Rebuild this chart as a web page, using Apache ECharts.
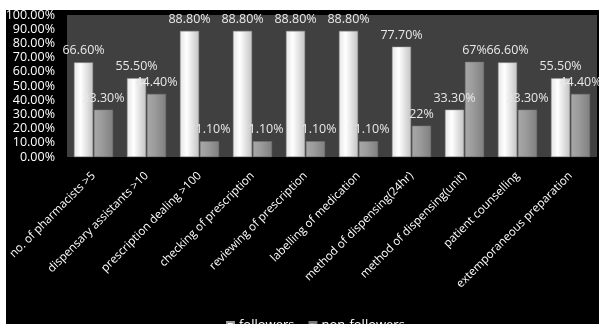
<!DOCTYPE html>
<html>
<head>
<meta charset="utf-8">
<script src="https://cdn.jsdelivr.net/npm/echarts@6/dist/echarts.min.js"></script>
<style>
html,body{margin:0;padding:0;background:#fff;}
#c{width:599px;height:324px;}
</style>
</head>
<body>
<div id="c"></div>
<script>
var categories = ["no. of pharmacists >5","dispensary assistants >10","prescription dealing >100","checking of prescription","reviewing of prescription","labelling of medication","method of dispensing(24hr)","method of dispensing(unit)","patient counselling","extemporaneous preparation"];
var followers = [66.6, 55.5, 88.8, 88.8, 88.8, 88.8, 77.7, 33.3, 66.6, 55.5];
var nonFollowers = [33.3, 44.4, 11.1, 11.1, 11.1, 11.1, 22, 67, 33.3, 44.4];
var followerLabels = ["66.60%","55.50%","88.80%","88.80%","88.80%","88.80%","77.70%","33.30%","66.60%","55.50%"];
var nonFollowerLabels = ["33.30%","44.40%","11.10%","11.10%","11.10%","11.10%","22%","67%","33.30%","44.40%"];

var chart = echarts.init(document.getElementById('c'));
var font = "'Open Sans', sans-serif";
chart.setOption({
  backgroundColor: '#ffffff',
  animation: false,
  graphic: [{type:'rect', left:6, top:10, shape:{width:593, height:314}, style:{fill:'#000'}, z:-10}],
  grid: {left:67, right:2, top:15, bottom:167, show:true, backgroundColor:'#404040', borderWidth:0},
  legend: {
    data:['followers','non-followers'], bottom:-13, left:221, itemWidth:7, itemHeight:7, itemGap:14,
    icon:'rect',
    textStyle:{color:'#fff', fontFamily:font, fontSize:13}
  },
  xAxis: {
    type:'category', data:categories,
    axisLine:{show:false}, axisTick:{show:false},
    axisLabel:{rotate:45, color:'#fff', fontFamily:font, fontSize:11.5, margin:17, interval:0}
  },
  yAxis: {
    type:'value', min:0, max:100, interval:10,
    splitLine:{show:false}, axisLine:{show:false}, axisTick:{show:false},
    axisLabel:{color:'#fff', fontFamily:font, fontSize:12.5, margin:12, formatter:function(v){return v.toFixed(2)+'%';}}
  },
  series: [
    {name:'followers', type:'bar', data:followers, barWidth:19, barGap:'5%',
     itemStyle:{color:new echarts.graphic.LinearGradient(0,0,1,0,[{offset:0,color:'#e6e6e6'},{offset:0.35,color:'#ffffff'},{offset:1,color:'#c4c4c4'}]), borderColor:'#9a9a9a', borderWidth:0.5},
     label:{show:true, position:'top', distance:5, color:'#e8e8e8', fontFamily:font, fontSize:12.5,
       formatter:function(p){return followerLabels[p.dataIndex];}}},
    {name:'non-followers', type:'bar', data:nonFollowers, barWidth:19,
     itemStyle:{color:new echarts.graphic.LinearGradient(0,0,1,0,[{offset:0,color:'#a8a8a8'},{offset:0.4,color:'#9c9c9c'},{offset:1,color:'#808080'}]), borderColor:'#777', borderWidth:0.5},
     label:{show:true, position:'top', distance:5, color:'#e8e8e8', fontFamily:font, fontSize:12.5,
       formatter:function(p){return nonFollowerLabels[p.dataIndex];}}}
  ]
});
</script>
</body>
</html>
